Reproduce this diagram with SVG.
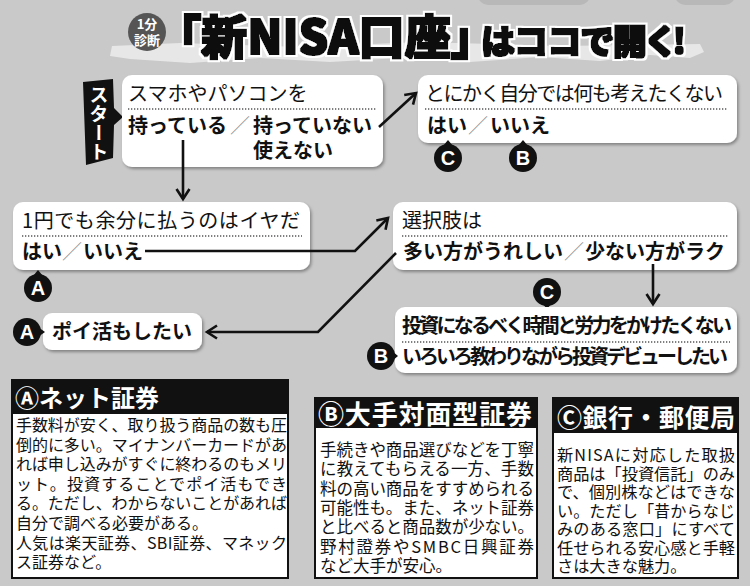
<svg xmlns="http://www.w3.org/2000/svg" width="750" height="586" viewBox="0 0 750 586">
<defs>
<filter id="sh" x="-5%" y="-10%" width="115%" height="135%"><feDropShadow dx="1.5" dy="2" stdDeviation="1.6" flood-color="#000" flood-opacity="0.35"/></filter>
<filter id="ttl" x="-5%" y="-20%" width="110%" height="140%">
<feMorphology in="SourceAlpha" operator="dilate" radius="0.9" result="thick"/>
<feFlood flood-color="#111"/><feComposite in2="thick" operator="in" result="blk"/>
<feMorphology in="SourceAlpha" operator="dilate" radius="3.2" result="out"/>
<feFlood flood-color="#fff"/><feComposite in2="out" operator="in" result="wht"/>
<feMerge><feMergeNode in="wht"/><feMergeNode in="blk"/></feMerge>
</filter>
<marker id="arr" viewBox="0 0 16 16" refX="12" refY="8" markerWidth="16" markerHeight="16" markerUnits="userSpaceOnUse" orient="auto"><path d="M2,1.5 L12,8 L2,14.5" fill="none" stroke="#111" stroke-width="2.6"/></marker>
<style>
.jp{font-family:"Noto Sans CJK JP","Noto Sans",sans-serif}
.q{font-family:"Noto Sans CJK JP","Noto Sans",sans-serif;font-size:20px;fill:#111;font-weight:400}
.a{font-family:"Noto Sans CJK JP","Noto Sans",sans-serif;font-size:20px;fill:#111;font-weight:700}
.sl{font-weight:300;fill:#888}
.box{fill:#fff;filter:url(#sh)}
.dot{stroke:#555;stroke-width:1.3;stroke-dasharray:1.3 1.7}
.ln{fill:none;stroke:#111;stroke-width:2.6}
.bd{fill:#111}
.bl{font-family:"Liberation Sans",Arial,sans-serif;font-weight:700;font-size:20px;fill:#fff;text-anchor:middle}
.ib{fill:#fff;stroke:#111;stroke-width:2}
.ih{font-family:"Noto Sans CJK JP","Noto Sans",sans-serif;font-weight:700;fill:#fff}
.it{font-family:"Noto Sans CJK JP","Noto Sans",sans-serif;fill:#111}
</style>
</defs>
<rect width="750" height="586" fill="#c9c9c9"/>
<rect x="478" y="-20" width="112" height="25" rx="10" fill="#b8b8b8"/>
<rect x="675" y="-20" width="60" height="25" rx="10" fill="#b8b8b8"/>

<g id="title">
<polygon points="112,46 180,43 300,47 420,42 560,46 700,44 704,52 690,58 650,55 600,61 540,57 470,62 400,58 330,62 260,58 190,63 130,59 110,56" fill="#fff" opacity="0.55"/>
<circle cx="147" cy="32" r="19" fill="#555"/>
<text class="jp" x="147" y="29" font-size="13" font-weight="700" fill="#fff" text-anchor="middle">1分</text>
<text class="jp" x="147" y="45" font-size="13" font-weight="700" fill="#fff" text-anchor="middle">診断</text>
<text class="jp" x="178" y="54" font-size="47" font-weight="900" fill="#111" filter="url(#ttl)" style="font-feature-settings:'palt'" textLength="296" lengthAdjust="spacingAndGlyphs">「新NISA口座」</text>
<text class="jp" x="481" y="54" font-size="34" font-weight="900" fill="#111" filter="url(#ttl)" style="font-feature-settings:'palt'" textLength="205" lengthAdjust="spacingAndGlyphs">はココで開く!</text>
</g>

<g id="start">
<polygon points="83,82 113,79 114,108 123,117 114,125 113,158 86,165" fill="#111"/>
<text class="jp" x="99" y="85" writing-mode="vertical-rl" font-size="19" font-weight="700" fill="#fff">スタート</text>
</g>

<g id="q1">
<rect class="box" x="122" y="75" width="261" height="92" rx="10"/>
<text class="q" x="128" y="101">スマホやパソコンを</text>
<line class="dot" x1="128" y1="109" x2="376" y2="109"/>
<text class="a" x="128" y="133">持っている</text>
<text class="a sl" x="230" y="133">／</text>
<text class="a" x="253" y="133">持っていない</text>
<text class="a" x="253" y="158">使えない</text>
</g>

<g id="q2">
<rect class="box" x="418" y="75" width="319" height="68" rx="10"/>
<text class="q" x="425" y="101" textLength="298">とにかく自分では何も考えたくない</text>
<line class="dot" x1="425" y1="109" x2="728" y2="109"/>
<text class="a" x="427" y="133">はい</text>
<text class="a sl" x="468" y="133">／</text>
<text class="a" x="490" y="133">いいえ</text>
</g>

<g id="badge-c1">
<polygon points="443,146 448,140 453,146" fill="#111"/>
<circle cx="448" cy="158" r="14" fill="#111"/>
<text class="bl" x="448" y="165">C</text>
</g>
<g id="badge-b1">
<polygon points="518,146 523,140 528,146" fill="#111"/>
<circle cx="523" cy="158" r="14" fill="#111"/>
<text class="bl" x="523" y="165">B</text>
</g>

<g id="q3">
<rect class="box" x="13" y="202" width="297" height="68" rx="10"/>
<text class="q" x="22" y="228" textLength="278">1円でも余分に払うのはイヤだ</text>
<line class="dot" x1="22" y1="236" x2="302" y2="236"/>
<text class="a" x="22" y="259">はい</text>
<text class="a sl" x="62" y="259">／</text>
<text class="a" x="83" y="259">いいえ</text>
</g>
<g id="badge-a1">
<polygon points="33,276 38,270 43,276" fill="#111"/>
<circle cx="38" cy="288" r="14" fill="#111"/>
<text class="bl" x="38" y="295">A</text>
</g>

<g id="q4">
<rect class="box" x="393" y="202" width="344" height="68" rx="10"/>
<text class="q" x="402" y="228">選択肢は</text>
<line class="dot" x1="402" y1="236" x2="728" y2="236"/>
<text class="a" x="403" y="259">多い方がうれしい</text>
<text class="a sl" x="564" y="259">／</text>
<text class="a" x="585" y="259">少ない方がラク</text>
</g>

<g id="poi">
<rect class="box" x="43" y="313" width="159" height="37" rx="9"/>
<text class="a" x="52" y="339">ポイ活もしたい</text>
</g>
<g id="badge-a2">
<polygon points="38,327 45,332 38,337" fill="#111"/>
<circle cx="27" cy="332" r="14" fill="#111"/>
<text class="bl" x="27" y="339">A</text>
</g>

<g id="badge-c2">
<polygon points="542,303 547,309 552,303" fill="#111"/>
<circle cx="547" cy="292" r="14" fill="#111"/>
<text class="bl" x="547" y="299">C</text>
</g>

<g id="q5">
<rect class="box" x="395" y="307" width="342" height="66" rx="10"/>
<text class="a" x="402" y="333" font-size="17.5" textLength="330">投資になるべく時間と労力をかけたくない</text>
<line class="dot" x1="402" y1="342" x2="730" y2="342"/>
<text class="a" x="402" y="364" font-size="17.5" textLength="326">いろいろ教わりながら投資デビューしたい</text>
</g>
<g id="badge-b2">
<polygon points="392,351 398,356 392,361" fill="#111"/>
<circle cx="381" cy="356" r="14" fill="#111"/>
<text class="bl" x="381" y="363">B</text>
</g>

<g id="connectors">
<path class="ln" d="M183,140 V199" marker-end="url(#arr)"/>
<path class="ln" d="M379,127 L416,93" marker-end="url(#arr)"/>
<path class="ln" d="M145,251 H355 L388,218" marker-end="url(#arr)"/>
<path class="ln" d="M396,253 L318,332 H207" marker-end="url(#arr)"/>
<path class="ln" d="M653,264 V304" marker-end="url(#arr)"/>
</g>

<g id="info-a">
<rect class="ib" x="12" y="380" width="276" height="198"/>
<rect class="bd" x="12" y="380" width="276" height="34"/>
<text class="ih" x="15" y="407" font-size="24">Ⓐネット証券</text>
<g class="it" font-size="16">
<text x="16" y="431" textLength="271">手数料が安く、取り扱う商品の数も圧</text>
<text x="16" y="450.6" textLength="271">倒的に多い。マイナンバーカードがあ</text>
<text x="16" y="470.2" textLength="271">れば申し込みがすぐに終わるのもメリ</text>
<text x="16" y="489.8" textLength="271">ット。投資することでポイ活もでき</text>
<text x="16" y="509.4" textLength="271">る。ただし、わからないことがあれば</text>
<text x="16" y="529">自分で調べる必要がある。</text>
<text x="16" y="548.6" textLength="271">人気は楽天証券、SBI証券、マネック</text>
<text x="16" y="568.2">ス証券など。</text>
</g>
</g>

<g id="info-b">
<rect class="ib" x="315" y="398" width="222" height="180"/>
<rect class="bd" x="315" y="398" width="222" height="30"/>
<text class="ih" x="318" y="424" font-size="26" textLength="214">Ⓑ大手対面型証券</text>
<g class="it" font-size="16.5">
<text x="320" y="456" textLength="214">手続きや商品選びなどを丁寧</text>
<text x="320" y="475.3" textLength="214">に教えてもらえる一方、手数</text>
<text x="320" y="494.6" textLength="214">料の高い商品をすすめられる</text>
<text x="320" y="513.9" textLength="214">可能性も。また、ネット証券</text>
<text x="320" y="533.2" textLength="214">と比べると商品数が少ない。</text>
<text x="320" y="552.5" textLength="214">野村證券やSMBC日興証券</text>
<text x="320" y="571.8">など大手が安心。</text>
</g>
</g>

<g id="info-c">
<rect class="ib" x="553" y="398" width="185" height="180"/>
<rect class="bd" x="553" y="398" width="185" height="35"/>
<text class="ih" x="557" y="427" font-size="25" textLength="178">Ⓒ銀行・郵便局</text>
<g class="it" font-size="16.2">
<text x="557" y="461" textLength="178">新NISAに対応した取扱</text>
<text x="557" y="479.5" textLength="178">商品は「投資信託」のみ</text>
<text x="557" y="498" textLength="178">で、個別株などはできな</text>
<text x="557" y="516.5" textLength="178">い。ただし「昔からなじ</text>
<text x="557" y="535" textLength="178">みのある窓口」にすべて</text>
<text x="557" y="553.5" textLength="178">任せられる安心感と手軽</text>
<text x="557" y="572">さは大きな魅力。</text>
</g>
</g>
</svg>
